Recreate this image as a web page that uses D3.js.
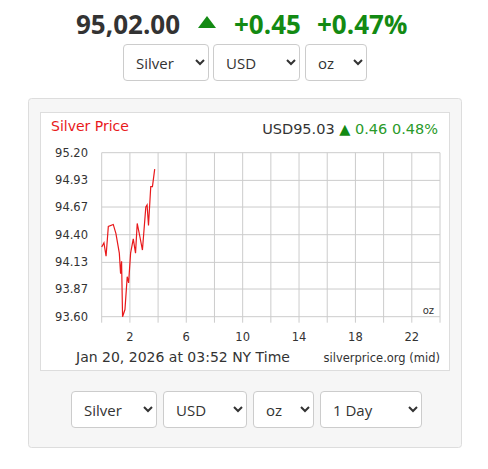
<!DOCTYPE html>
<html><head><meta charset="utf-8">
<script src="https://cdn.jsdelivr.net/npm/d3@7"></script>
<style>
body{margin:0;background:#fff;font-family:"Open Sans",sans-serif;}
#wrap{position:relative;width:488px;height:469px;}
select{position:absolute;font-family:"Open Sans",sans-serif;font-size:15px;color:#333;background:#fff;border:1px solid #ccc;border-radius:4px;padding:0 8px;height:37px;}
svg{position:absolute;left:0;top:0;}
</style></head>
<body><div id="wrap"><svg width="488" height="469"></svg></div>
<script>
var hours = [0, 0.16, 0.31, 0.47, 0.82, 1.01, 1.25, 1.34, 1.41, 1.48, 1.65, 1.81, 1.91, 2.05, 2.24, 2.40, 2.52, 2.71, 2.89, 3.13, 3.22, 3.32, 3.48, 3.60, 3.76];
var prices = [94.28, 94.32, 94.19, 94.48, 94.50, 94.41, 94.22, 94.02, 94.14, 93.60, 93.67, 93.99, 93.93, 94.22, 94.36, 94.22, 94.51, 94.38, 94.25, 94.67, 94.69, 94.49, 94.87, 94.87, 95.04];
var yTicks = [93.60, 93.87, 94.13, 94.40, 94.67, 94.93, 95.20];
var xGrid = [0, 2, 4, 6, 8, 10, 12, 14, 16, 18, 20, 22, 24];
var xLabels = [2, 6, 10, 14, 18, 22];

var svg = d3.select('svg');
var green = '#138a13';

// header
svg.append('text').attr('x', 76).attr('y', 34).attr('font-size', 26).attr('font-weight', 700).attr('fill', '#333').text('95,02.00');
svg.append('path').attr('d', 'M198,28 L207,16 L216,28 Z').attr('fill', green);
svg.append('text').attr('x', 234).attr('y', 34).attr('font-size', 26).attr('font-weight', 700).attr('fill', green).text('+0.45');
svg.append('text').attr('x', 317).attr('y', 34).attr('font-size', 26).attr('font-weight', 700).attr('fill', green).text('+0.47%');

// panel
svg.append('rect').attr('x', 28.5).attr('y', 98.5).attr('width', 433).attr('height', 349)
   .attr('fill', '#f6f6f6').attr('stroke', '#ddd').attr('rx', 3);
svg.append('rect').attr('x', 40.5).attr('y', 112.5).attr('width', 409).attr('height', 258)
   .attr('fill', '#fff').attr('stroke', '#ddd');

var x = d3.scaleLinear().domain([0, 24]).range([101.7, 440]);
var y = d3.scaleLinear().domain([93.60, 95.20]).range([316.7, 152.7]);

var g = svg.append('g').attr('font-family', 'DejaVu Sans, sans-serif');
g.selectAll('.hg').data(yTicks).enter().append('line')
  .attr('x1', x(0)).attr('x2', x(24)).attr('y1', function (d) { return y(d); }).attr('y2', function (d) { return y(d); })
  .attr('stroke', '#ccc');
g.selectAll('.vg').data(xGrid).enter().append('line')
  .attr('x1', function (d) { return x(d); }).attr('x2', function (d) { return x(d); })
  .attr('y1', y(95.20)).attr('y2', y(93.60) + 6).attr('stroke', '#ccc');
g.selectAll('.yl').data(yTicks).enter().append('text')
  .attr('x', 88).attr('y', function (d) { return y(d) + 4; }).attr('text-anchor', 'end')
  .attr('font-size', 11.5).attr('fill', '#333').text(function (d) { return d.toFixed(2); });
g.selectAll('.xl').data(xLabels).enter().append('text')
  .attr('x', function (d) { return x(d); }).attr('y', 341).attr('text-anchor', 'middle')
  .attr('font-size', 11.5).attr('fill', '#333').text(function (d) { return d; });

var line = d3.line().x(function (d, i) { return x(hours[i]); }).y(function (d) { return y(d); });
g.append('path').datum(prices).attr('d', line).attr('fill', 'none').attr('stroke', '#e8191b').attr('stroke-width', 1.2);

g.append('text').attr('x', 51).attr('y', 131).attr('font-size', 14).attr('fill', '#e8191b').text('Silver Price');
var t = g.append('text').attr('x', 438).attr('y', 134).attr('text-anchor', 'end').attr('font-size', 14.5);
t.append('tspan').attr('fill', '#333').text('USD95.03 ');
t.append('tspan').attr('fill', green).text('\u25B2 ');
t.append('tspan').attr('fill', '#2a9a2a').text('0.46 0.48%');
g.append('text').attr('x', 434).attr('y', 314).attr('text-anchor', 'end').attr('font-size', 10).attr('fill', '#333').text('oz');
g.append('text').attr('x', 76).attr('y', 362).attr('font-size', 14).attr('fill', '#333').text('Jan 20, 2026 at 03:52 NY Time');
g.append('text').attr('x', 440).attr('y', 362).attr('text-anchor', 'end').attr('font-size', 11.5).attr('fill', '#333').text('silverprice.org (mid)');

// selects
var sels = [
  {l: 123, t: 44, w: 86, v: 'Silver'}, {l: 213, t: 44, w: 87, v: 'USD'}, {l: 305, t: 44, w: 62, v: 'oz'},
  {l: 71, t: 391, w: 86, v: 'Silver'}, {l: 163, t: 391, w: 84, v: 'USD'}, {l: 253, t: 391, w: 61, v: 'oz'}, {l: 320, t: 391, w: 102, v: '1 Day'}
];
d3.select('#wrap').selectAll('select').data(sels).enter().append('select')
  .style('left', function (d) { return d.l + 'px'; }).style('top', function (d) { return d.t + 'px'; })
  .style('width', function (d) { return d.w + 'px'; })
  .append('option').text(function (d) { return d.v; });
</script></body></html>
